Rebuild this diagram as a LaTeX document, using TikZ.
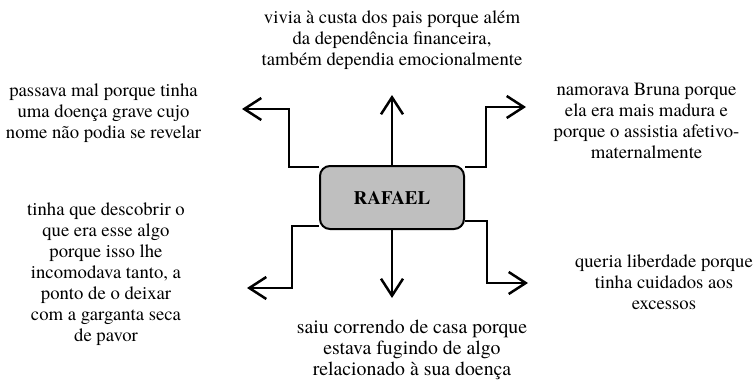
\documentclass[tikz,border=0pt]{standalone}
\usepackage{fontspec}
\setmainfont{texgyretermes}[Extension=.otf, UprightFont=*-regular, BoldFont=*-bold, ItalicFont=*-italic, BoldItalicFont=*-bolditalic]
\usetikzlibrary{arrows.meta}
\tikzset{
  box/.style={draw, line width=2pt, rounded corners=10pt, fill=gray!50,
    minimum width=144pt, minimum height=63pt, inner sep=0pt,
    font=\bfseries\fontsize{19}{21}\selectfont},
  txt/.style={align=center, inner sep=0pt, font=\fontsize{18.7}{21}\selectfont},
  arr/.style={line width=2.5pt, -{Straight Barb[length=17pt,width=22pt]}},
}

\begin{document}
\begin{tikzpicture}[x=1pt, y=-1pt]
    \useasboundingbox (0,0) rectangle (755,381);

    % central box
    \node [box] (R) at (392,197.5) {RAFAEL};

    % arrow tips
    \coordinate (T) at (392,95);
    \coordinate (B) at (392,298);
    \coordinate (TL) at (242,109);
    \coordinate (TR) at (526,107);
    \coordinate (BL) at (247,288);
    \coordinate (BR) at (528,283);

    % arrows
    \draw [arr] (R.north) -- (T);
    \draw [arr] (R.south) -- (B);
    \draw [arr] ([yshift=-2pt]R.north west) -- ++(-30,0) |- (TL);
    \draw [arr] ([yshift=-2pt]R.north east) -- ++(21,0) |- (TR);
    \draw [arr] ([yshift=4pt]R.south west) -- ++(-27,0) |- (BL);
    \draw [arr] ([yshift=9pt]R.south east) -- ++(22,0) |- (BR);

    % add labels
    \node [txt] (tT) at (392,40) {vivia à custa dos pais porque além\\da dependência financeira,\\também dependia emocionalmente};
    \node [txt] (tTL) at (103.5,113) {passava mal porque tinha\\uma doença grave cujo\\nome não podia se revelar};
    \node [txt] (tTR) at (646.5,121) {namorava Bruna porque\\ela era mais madura e\\porque o assistia afetivo-\\maternalmente};
    \node [txt] (tBL) at (106,274) {tinha que descobrir o\\que era esse algo\\porque isso lhe\\incomodava tanto, a\\ponto de o deixar\\com a garganta seca\\de pavor};
    \node [txt] (tBR) at (664,282) {queria liberdade porque\\tinha cuidados aos\\excessos};
    \node [txt, font=\fontsize{19.8}{21}\selectfont] (tB) at (412,350) {saiu correndo de casa porque\\estava fugindo de algo\\relacionado à sua doença};
\end{tikzpicture}
\end{document}
